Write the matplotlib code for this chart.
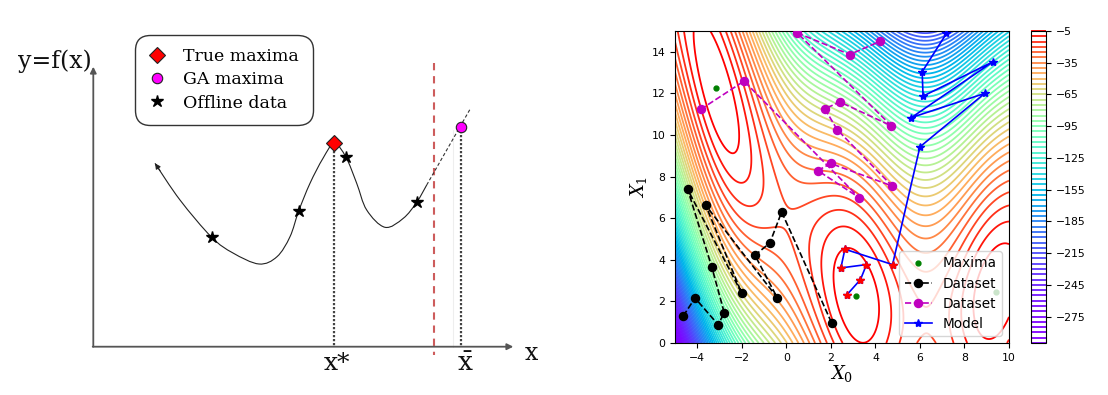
import numpy as np
import matplotlib
matplotlib.use("Agg")
import matplotlib.pyplot as plt
from matplotlib.path import Path
from matplotlib.patches import PathPatch
from matplotlib import colors as mcolors

W, H, DPI = 1108, 395, 100

# ---------------- left schematic (values read in picture pixels) ----------------
curve_x = [155.0, 180.0, 211.7, 233.0, 259.0, 277.0, 290.0, 298.7, 310.0, 323.0,
           334.3, 346.0, 356.7, 366.7, 385.0, 403.3, 416.7, 426.7]
curve_y = [163.3, 200.0, 237.3, 253.0, 264.0, 256.7, 236.7, 211.0, 183.3, 158.3,
           143.3, 157.3, 183.3, 210.0, 227.3, 218.3, 202.3, 185.0]
offline_x = [211.7, 298.7, 346.0, 416.7]
offline_y = [237.3, 211.0, 157.3, 202.3]
true_max_x, true_max_y = [334.3], [143.3]
ga_max_x, ga_max_y = [461.3], [127.3]
extrap_x = [426.7, 470.0]
extrap_y = [185.0, 109.3]
boundary_x = [434.3]
axis_origin = (93.3, 346.7)
legend_labels_left = ["True maxima", "GA maxima", "Offline data"]

# ---------------- right: negative Branin landscape ----------------
x0_lim = (-5, 10)
x1_lim = (0, 15)
br_a, br_b, br_c = 1.0, 5.1 / (4 * np.pi ** 2), 5 / np.pi
br_r, br_s, br_t = 6.0, 10.0, 1 / (8 * np.pi)
levels = np.arange(-300, 0, 5)

maxima_x0 = [-np.pi, np.pi, 9.42478]
maxima_x1 = [12.275, 2.275, 2.475]

black_x0 = [-4.63, -4.10, -3.06, -2.79, -3.35, -4.43, -2.01, -3.62, -0.41, -1.41, -0.74, -0.21, 2.03]
black_x1 = [1.30, 2.16, 0.88, 1.46, 3.66, 7.38, 2.41, 6.62, 2.18, 4.22, 4.81, 6.30, 0.98]

mag_x0 = [-3.85, -1.90, 3.27, 1.41, 2.00, 4.75, 2.28, 1.73, 2.40, 4.72, 0.49, 2.85, 4.20]
mag_x1 = [11.23, 12.59, 6.99, 8.29, 8.63, 7.55, 10.26, 11.26, 11.59, 10.44, 14.91, 13.87, 14.50]

model_x0 = [2.73, 3.33, 3.60, 2.45, 2.63, 4.77, 6.00, 8.91, 5.62, 9.28, 6.14, 6.10, 7.19]
model_x1 = [2.33, 3.05, 3.77, 3.61, 4.51, 3.77, 9.43, 12.00, 10.84, 13.52, 11.87, 13.04, 14.88]
n_red = 6

fig = plt.figure(figsize=(W / DPI, H / DPI), dpi=DPI)

# ======================= LEFT =======================
axl = fig.add_axes([0, 0, 555 / W, 1])
axl.set_xlim(0, 555)
axl.set_ylim(H, 0)
axl.axis("off")


def smooth_path(xs, ys):
    P = np.column_stack([xs, ys])
    n = len(P)
    verts = [P[0]]
    codes = [Path.MOVETO]
    for i in range(n - 1):
        p0 = P[i - 1] if i > 0 else P[i]
        p1, p2 = P[i], P[i + 1]
        p3 = P[i + 2] if i + 2 < n else P[i + 1]
        verts += [p1 + (p2 - p0) / 6, p2 - (p3 - p1) / 6, p2]
        codes += [Path.CURVE4] * 3
    return Path(verts, codes)


ox, oy = axis_origin
axl.annotate("", xy=(ox, 66.7), xytext=(ox, oy),
             arrowprops=dict(arrowstyle="-|>", color="#555555", lw=1.3,
                             mutation_scale=9, shrinkA=0, shrinkB=0))
axl.annotate("", xy=(513.3, oy), xytext=(ox - 0.6, oy),
             arrowprops=dict(arrowstyle="-|>", color="#555555", lw=1.3,
                             mutation_scale=9, shrinkA=0, shrinkB=0))

axl.add_patch(PathPatch(smooth_path(curve_x, curve_y), fill=False, lw=0.8,
                        edgecolor="#222222", zorder=3))
axl.annotate("", xy=(curve_x[0], curve_y[0]),
             xytext=(curve_x[0] + 5, curve_y[0] + 7.3),
             arrowprops=dict(arrowstyle="-|>", color="#222222", lw=0.8,
                             mutation_scale=8, shrinkA=0, shrinkB=0))
axl.plot(extrap_x, extrap_y, color="#333333", lw=0.8, ls=(0, (3, 2)), zorder=3)

axl.plot([true_max_x[0]] * 2, [true_max_y[0], oy], color="#444444", lw=1.6,
         ls=(0, (1, 0.8)), zorder=2)
axl.plot([ga_max_x[0]] * 2, [ga_max_y[0], oy], color="#444444", lw=1.6,
         ls=(0, (1, 0.8)), zorder=2)
axl.plot([452.7, 452.7], [130, oy], color="#eeeeee", lw=0.8, zorder=1)
axl.plot([boundary_x[0]] * 2, [63.3, 355], color="#cd5c5c", lw=1.5,
         ls=(0, (3.5, 2.8)), zorder=2)

h_true, = axl.plot(true_max_x, true_max_y, "D", ms=8.5, mfc="red", mec="#222222",
                   mew=0.8, zorder=5)
h_ga, = axl.plot(ga_max_x, ga_max_y, "o", ms=7.5, mfc="#ff00ff", mec="#222222",
                 mew=0.8, zorder=5)
h_off, = axl.plot(offline_x, offline_y, "*", ms=9, color="black", zorder=5)

serif = "DejaVu Serif"
axl.text(18, 61, "y=f(x)", fontsize=17, family=serif, ha="left", va="center",
         color="#111111")
axl.text(531, 354, "x", fontsize=17, family=serif, ha="center", va="center",
         color="#111111")
axl.text(337, 363, "x*", fontsize=18, family=serif, ha="center", va="center",
         color="#111111")
plt.rcParams["mathtext.fontset"] = "dejavuserif"
axl.text(465, 364, r"$\bar{\mathrm{x}}$", fontsize=19, ha="center", va="center",
         color="#111111")

lg = axl.legend([h_true, h_ga, h_off], legend_labels_left,
                loc="upper left", bbox_to_anchor=(138, 38),
                bbox_transform=axl.transData,
                prop={"family": serif, "size": 12.5}, frameon=True, fancybox=True,
                edgecolor="#333333", framealpha=1, handlelength=1.0,
                handletextpad=1.0, borderpad=0.6, labelspacing=0.35,
                borderaxespad=0, numpoints=1)
lg.get_frame().set_linewidth(1.0)
lg.get_frame().set_boxstyle("round", pad=0.2, rounding_size=0.9)

# ======================= RIGHT =======================
L, R, T, B = 675, 1009, 31, 343
axr = fig.add_axes([L / W, 1 - B / H, (R - L) / W, (B - T) / H])
cax = fig.add_axes([1031 / W, 1 - B / H, 15 / W, (B - T) / H])

g0 = np.linspace(x0_lim[0], x0_lim[1], 300)
g1 = np.linspace(x1_lim[0], x1_lim[1], 300)
X0, X1 = np.meshgrid(g0, g1)
Z = -(br_a * (X1 - br_b * X0 ** 2 + br_c * X0 - br_r) ** 2
      + br_s * (1 - br_t) * np.cos(X0) + br_s)

norm = mcolors.PowerNorm(gamma=1.85, vmin=levels.min(), vmax=levels.max())
cs = axr.contour(X0, X1, Z, levels=levels, cmap="rainbow", norm=norm,
                 linewidths=1.3, zorder=1)
cb = fig.colorbar(cs, cax=cax)
cb.ax.tick_params(labelsize=7.8)
for c in cb.ax.collections:
    c.set_linewidth(1.3)

axr.plot(maxima_x0, maxima_x1, "o", color="green", ms=3.5, ls="none",
         label="Maxima", zorder=4)
axr.plot(black_x0, black_x1, "--o", color="black", ms=5.8, lw=1.2,
         label="Dataset", zorder=3)
axr.plot(mag_x0, mag_x1, "--o", color="m", ms=5.8, lw=1.2,
         label="Dataset", zorder=3)
axr.plot(model_x0, model_x1, "-*", color="blue", ms=6, lw=1.2,
         label="Model", zorder=3)
axr.plot(model_x0[:n_red], model_x1[:n_red], "*", color="red", ms=6, ls="none",
         zorder=4)

axr.set_xlim(*x0_lim)
axr.set_ylim(*x1_lim)
axr.set_xlabel(r"$X_0$", fontsize=13, labelpad=0)
axr.set_ylabel(r"$X_1$", fontsize=13, labelpad=2)
axr.tick_params(labelsize=7.8)
axr.legend(loc="lower right", fontsize=9.8, handlelength=2.0,
           borderaxespad=0.5, labelspacing=0.45)

fig.savefig("out.png", dpi=DPI, facecolor="white")
